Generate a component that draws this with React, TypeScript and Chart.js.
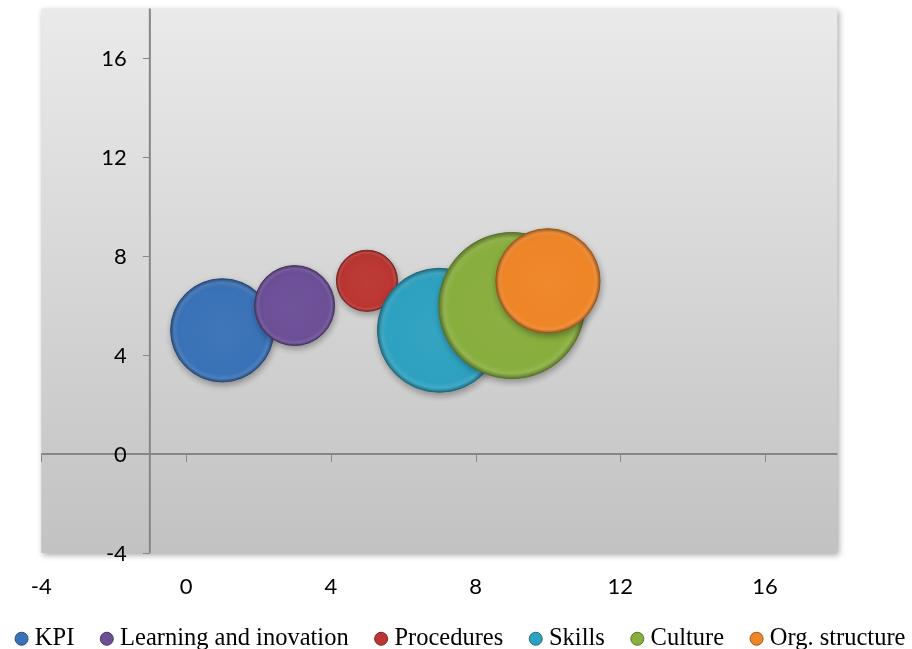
import React, { useEffect, useRef } from "react";
import { Chart, registerables } from "chart.js";

Chart.register(...registerables);

// ---- data ----
const seriesNames = ["KPI", "Learning and inovation", "Procedures", "Skills", "Culture", "Org. structure"];
const xValues = [1, 3, 5, 7, 9, 10];
const yValues = [5, 6, 7, 5, 6, 7];
const bubbleSizes = [5, 3, 1.75, 7.2, 10, 5.1];
const xTicks = [-4, 0, 4, 8, 12, 16];
const yTicks = [-4, 0, 4, 8, 12, 16];
const xMin = -4;
const xMax = 18;
const yMin = -4;
const yMax = 18;
const yAxisCrossesAtX = -1;
const xAxisCrossesAtY = 0;

// ---- styles ----
const baseColors = ["#3a72b7", "#6c4f97", "#bb3632", "#2ea1c0", "#88ae3d", "#ee8527"];
const MAX_BUBBLE_RADIUS = 73;
const AXIS_COLOR = "#868686";
const TICK_FONT = "Lato";
const LEGEND_FONT = "Liberation Serif";

function shade(hex: string, amt: number): string {
  const n = parseInt(hex.slice(1), 16);
  let r = (n >> 16) & 255, g = (n >> 8) & 255, b = n & 255;
  const t = amt < 0 ? 0 : 255;
  const p = Math.abs(amt);
  r = Math.round((t - r) * p + r);
  g = Math.round((t - g) * p + g);
  b = Math.round((t - b) * p + b);
  return `rgb(${r},${g},${b})`;
}

function bubbleFill(c: any, base: string) {
  const chart = c.chart;
  const raw = c.raw;
  if (!chart.chartArea || !raw || !chart.scales.x) return base;
  const px = chart.scales.x.getPixelForValue(raw.x);
  const py = chart.scales.y.getPixelForValue(raw.y);
  const r = raw.r;
  const g = chart.ctx.createRadialGradient(px, py + r * 0.06, 0, px, py, r);
  g.addColorStop(0, shade(base, 0.03));
  g.addColorStop(0.85, base);
  g.addColorStop(0.93, shade(base, 0.1));
  g.addColorStop(1, shade(base, -0.3));
  return g;
}

const excelPlotPlugin = {
  id: "excelPlot",
  beforeDraw(chart: any) {
    const { ctx, chartArea: a } = chart;
    ctx.save();
    ctx.shadowColor = "rgba(0,0,0,0.35)";
    ctx.shadowBlur = 6;
    ctx.shadowOffsetX = 2;
    ctx.shadowOffsetY = 2;
    const g = ctx.createLinearGradient(0, a.top, 0, a.bottom);
    g.addColorStop(0, "#eaeaea");
    g.addColorStop(1, "#c2c2c2");
    ctx.fillStyle = g;
    ctx.fillRect(a.left, a.top, a.right - a.left, a.bottom - a.top);
    ctx.restore();
  },
  beforeDatasetsDraw(chart: any) {
    const { ctx, chartArea: a } = chart;
    const xs = chart.scales.x;
    const ys = chart.scales.y;
    const y0 = ys.getPixelForValue(xAxisCrossesAtY);
    const x0 = xs.getPixelForValue(yAxisCrossesAtX);
    ctx.save();
    ctx.strokeStyle = AXIS_COLOR;
    ctx.lineWidth = 1;
    ctx.beginPath();
    xTicks.forEach((v) => {
      const px = Math.round(xs.getPixelForValue(v)) + 0.5;
      ctx.moveTo(px, y0);
      ctx.lineTo(px, y0 + 8);
    });
    yTicks.forEach((v) => {
      const py = Math.round(ys.getPixelForValue(v)) + 0.5;
      ctx.moveTo(x0, py);
      ctx.lineTo(x0 - 7, py);
    });
    ctx.stroke();
    ctx.lineWidth = 2;
    ctx.beginPath();
    ctx.moveTo(a.left, y0);
    ctx.lineTo(a.right, y0);
    ctx.moveTo(x0, a.top);
    ctx.lineTo(x0, a.bottom);
    ctx.stroke();
    // y tick labels beside the crossing axis
    ctx.fillStyle = "#000";
    ctx.font = `22px ${TICK_FONT}`;
    ctx.textAlign = "right";
    ctx.textBaseline = "middle";
    yTicks.forEach((v) => {
      ctx.fillText(String(v), x0 - 23, ys.getPixelForValue(v) + 1);
    });
    ctx.restore();
    // soft shadow for the bubbles
    ctx.save();
    ctx.shadowColor = "rgba(0,0,0,0.3)";
    ctx.shadowBlur = 6;
    ctx.shadowOffsetX = 1;
    ctx.shadowOffsetY = 3;
  },
  afterDatasetsDraw(chart: any) {
    chart.ctx.restore();
  },
};

export default function App() {
  const ref = useRef<HTMLCanvasElement>(null);

  useEffect(() => {
    document.body.style.margin = "0";
    document.body.style.overflow = "hidden";
    const canvas = ref.current;
    if (!canvas) return;
    const maxSize = Math.max(...bubbleSizes);
    const n = seriesNames.length;
    const datasets = seriesNames.map((name, i) => ({
      label: name,
      data: [
        {
          x: xValues[i],
          y: yValues[i],
          r: MAX_BUBBLE_RADIUS * Math.sqrt(bubbleSizes[i] / maxSize),
        },
      ],
      order: n - 1 - i,
      backgroundColor: (c: any) => bubbleFill(c, baseColors[i]),
      borderColor: shade(baseColors[i], -0.35),
      borderWidth: 1,
    }));

    const hiddenScale = {
      display: true,
      grid: { display: false, drawTicks: false },
      border: { display: false },
      ticks: { display: false },
    };

    const chart = new Chart(canvas, {
      type: "bubble",
      data: { datasets },
      plugins: [excelPlotPlugin],
      options: {
        responsive: false,
        animation: false,
        events: [],
        layout: {
          autoPadding: false,
          padding: { top: 8.6, left: -18, right: -32, bottom: -12 },
        },
        scales: {
          x: {
            type: "linear",
            min: xMin,
            max: xMax,
            position: { y: yMin },
            afterBuildTicks: (s: any) => {
              s.ticks = xTicks.map((v) => ({ value: v }));
            },
            grid: { display: false, drawTicks: false },
            border: { display: false },
            ticks: {
              autoSkip: false,
              maxRotation: 0,
              padding: 20.5,
              color: "#000",
              font: { family: TICK_FONT, size: 22 },
            },
          },
          y: {
            type: "linear",
            min: yMin,
            max: yMax,
            position: "left",
            ...hiddenScale,
            afterBuildTicks: (s: any) => {
              s.ticks = yTicks.map((v) => ({ value: v }));
            },
            afterFit: (s: any) => {
              s.width = 59.3;
            },
          },
          yRightSpace: {
            type: "linear",
            min: 0,
            max: 1,
            position: "right",
            ...hiddenScale,
            afterFit: (s: any) => {
              s.width = 106.6;
            },
          },
        },
        plugins: {
          tooltip: { enabled: false },
          legend: {
            position: "bottom",
            title: {
              display: true,
              text: "",
              font: { size: 10, lineHeight: 1 },
              padding: { top: 32, bottom: 0 },
            },
            labels: {
              usePointStyle: true,
              boxWidth: 2,
              boxHeight: 9.2,
              padding: 31.5,
              color: "#000",
              font: { family: LEGEND_FONT, size: 24.5 },
              generateLabels: (ch: any) =>
                ch.data.datasets.map((ds: any, i: number) => ({
                  text: ds.label,
                  fillStyle: baseColors[i],
                  strokeStyle: shade(baseColors[i], -0.35),
                  lineWidth: 1,
                  pointStyle: "circle",
                  hidden: false,
                  datasetIndex: i,
                  fontColor: "#000",
                })),
            },
          },
        },
      },
    } as any);

    return () => chart.destroy();
  }, []);

  return (
    <div style={{ width: 912, height: 649 }}>
      <canvas ref={ref} width={912} height={649} style={{ display: "block" }} />
    </div>
  );
}
